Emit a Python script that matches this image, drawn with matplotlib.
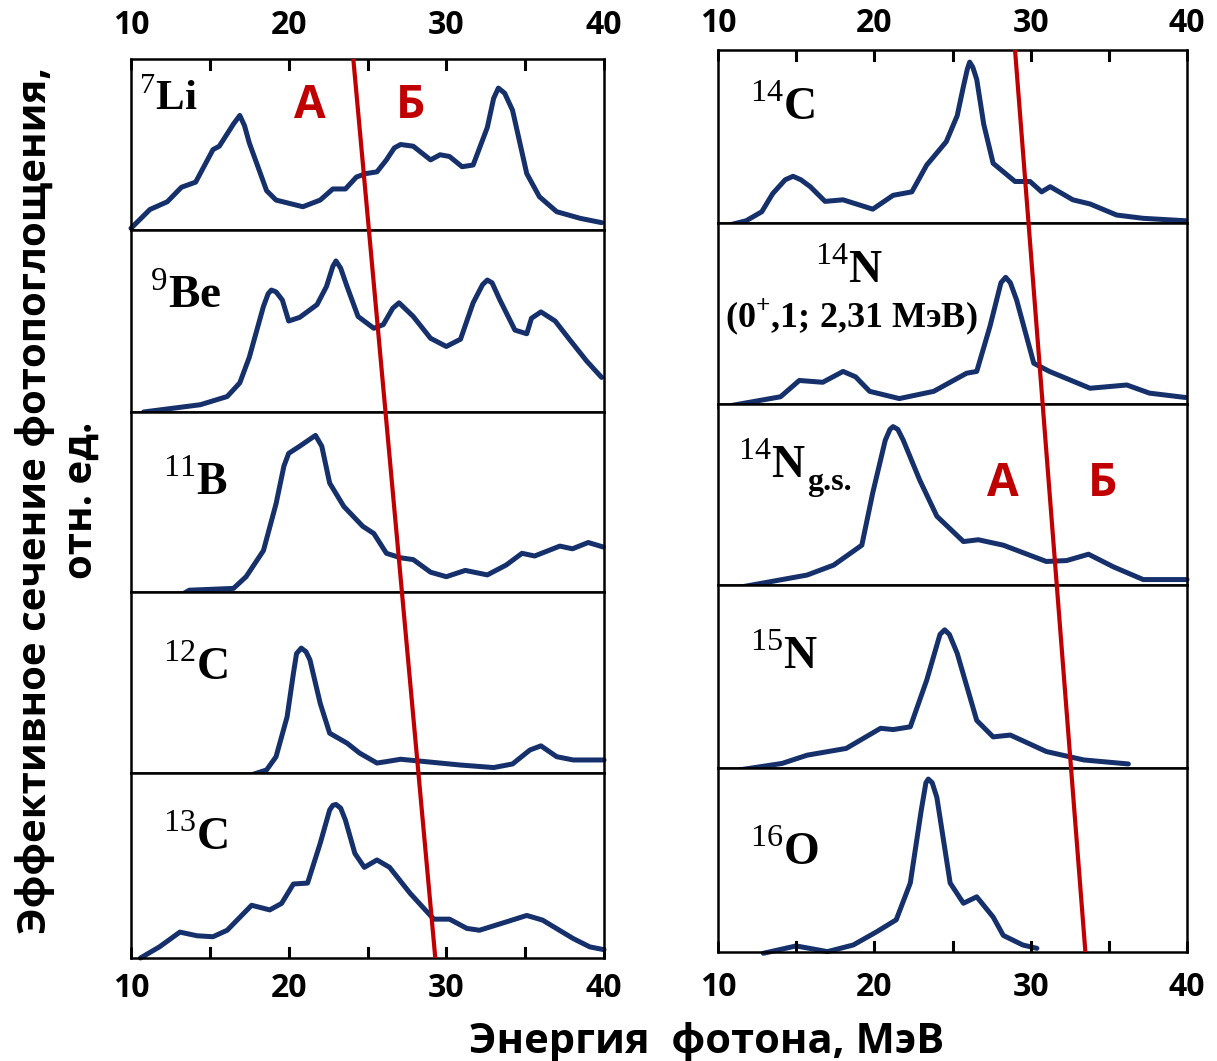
"""
  Спектры фотопоглощения лёгких ядер (две колонки панелей).
"""
import matplotlib.pyplot as plt

plt.rcParams['mathtext.fontset'] = 'custom'
plt.rcParams['mathtext.rm'] = 'Liberation Serif'
plt.rcParams['mathtext.bf'] = 'Liberation Serif:bold'

W, H = 1217, 1061
CURVE = '#15306b'
RED = '#c00000'
SANS = 'Open Sans'

# ---- данные (энергия, МэВ; сечение, отн. ед.) ----
e_li7 = [10.0, 11.2, 12.3, 13.2, 14.1, 15.2, 15.6, 16.5, 16.9, 17.2, 17.5, 18.6, 19.2, 20.9, 22.0, 22.8,
         23.6, 24.3, 24.9, 25.6, 26.2, 26.7, 27.1, 27.9, 29.0, 29.6, 30.2, 31.0, 31.7, 32.6, 33.0, 33.3,
         33.7, 34.2, 35.1, 35.9, 37.0, 38.5, 39.85]
s_li7 = [0.01, 0.12, 0.165, 0.25, 0.28, 0.47, 0.49, 0.62, 0.67, 0.61, 0.51, 0.23, 0.175, 0.136, 0.175, 0.24,
         0.24, 0.31, 0.33, 0.34, 0.41, 0.48, 0.50, 0.49, 0.41, 0.44, 0.43, 0.37, 0.38, 0.60, 0.77, 0.83,
         0.80, 0.70, 0.33, 0.195, 0.107, 0.068, 0.043]

e_be9 = [10.8, 14.4, 16.1, 16.9, 17.5, 18.4, 18.7, 18.9, 19.2, 19.6, 20.0, 20.7, 21.8, 22.4, 22.8, 23.0,
         23.3, 23.7, 24.4, 25.4, 26.0, 26.6, 27.0, 27.9, 29.0, 30.0, 30.9, 31.7, 32.3, 32.6, 32.9, 33.4,
         34.35, 35.1, 35.4, 36.0, 36.9, 37.8, 38.9, 39.85]
s_be9 = [0.0, 0.04, 0.085, 0.16, 0.30, 0.58, 0.65, 0.67, 0.66, 0.615, 0.50, 0.52, 0.59, 0.69, 0.80, 0.83,
         0.79, 0.69, 0.525, 0.46, 0.48, 0.57, 0.60, 0.525, 0.405, 0.36, 0.40, 0.60, 0.70, 0.725, 0.71, 0.615,
         0.45, 0.43, 0.515, 0.55, 0.50, 0.40, 0.28, 0.19]

e_b11 = [13.1, 13.7, 16.5, 17.3, 18.4, 19.2, 19.7, 20.0, 20.7, 21.2, 21.7, 22.1, 22.6, 23.5, 24.7, 25.4,
         26.2, 27.1, 27.9, 29.0, 30.0, 31.2, 32.6, 33.8, 34.8, 35.6, 37.2, 38.0, 39.0, 39.95]
s_b11 = [-0.02, 0.01, 0.02, 0.085, 0.23, 0.49, 0.70, 0.77, 0.81, 0.84, 0.87, 0.81, 0.605, 0.475, 0.365, 0.325,
         0.215, 0.19, 0.18, 0.11, 0.085, 0.12, 0.095, 0.15, 0.215, 0.20, 0.255, 0.24, 0.275, 0.25]

e_c12 = [17.65, 18.6, 19.2, 19.9, 20.3, 20.5, 20.8, 21.1, 21.35, 22.0, 22.6, 23.7, 24.5, 25.6, 26.2, 27.1,
         28.3, 30.9, 33.0, 34.2, 35.3, 36.0, 37.0, 38.05, 40.0]
s_c12 = [-0.01, 0.017, 0.09, 0.31, 0.55, 0.66, 0.69, 0.67, 0.625, 0.385, 0.22, 0.165, 0.11, 0.055, 0.063, 0.076,
         0.066, 0.044, 0.03, 0.05, 0.127, 0.15, 0.09, 0.072, 0.072]

e_c13 = [10.6, 11.8, 13.1, 14.2, 15.2, 16.1, 17.65, 18.8, 19.55, 20.3, 21.2, 22.0, 22.6, 22.8, 23.0, 23.3,
         23.6, 24.2, 24.8, 25.6, 26.4, 27.7, 29.2, 30.2, 31.3, 32.1, 33.8, 35.1, 36.1, 38.05, 39.1, 40.0]
s_c13 = [0.0, 0.06, 0.14, 0.12, 0.115, 0.15, 0.285, 0.26, 0.295, 0.40, 0.405, 0.62, 0.80, 0.825, 0.83, 0.81,
         0.745, 0.565, 0.49, 0.53, 0.49, 0.35, 0.21, 0.21, 0.16, 0.15, 0.195, 0.23, 0.205, 0.105, 0.06, 0.045]

e_c14 = [10.35, 11.8, 12.8, 13.5, 14.3, 14.8, 15.3, 15.9, 16.85, 18.0, 19.9, 21.2, 22.4, 23.35, 24.6, 25.3,
         25.7, 25.95, 26.1, 26.3, 26.55, 27.0, 27.6, 29.0, 29.96, 30.7, 31.25, 32.7, 33.8, 35.5, 37.2, 39.9]
s_c14 = [-0.02, 0.013, 0.065, 0.17, 0.25, 0.27, 0.25, 0.21, 0.125, 0.134, 0.08, 0.16, 0.18, 0.335, 0.47, 0.62,
         0.79, 0.89, 0.93, 0.90, 0.83, 0.57, 0.345, 0.24, 0.24, 0.18, 0.21, 0.134, 0.11, 0.046, 0.027, 0.013]

e_n14 = [10.1, 14.0, 15.2, 16.7, 18.0, 18.8, 19.7, 21.6, 23.8, 25.9, 26.55, 27.4, 28.1, 28.4, 28.7, 29.1,
         30.2, 31.2, 33.8, 36.15, 37.6, 39.9]
s_n14 = [-0.02, 0.04, 0.13, 0.12, 0.18, 0.15, 0.07, 0.03, 0.07, 0.17, 0.18, 0.43, 0.67, 0.70, 0.67, 0.575,
         0.225, 0.18, 0.087, 0.105, 0.06, 0.036]

e_n14gs = [10.9, 15.7, 17.4, 19.2, 19.9, 20.7, 21.0, 21.2, 21.5, 21.85, 22.9, 24.0, 25.7, 26.65, 28.25, 31.0,
           32.3, 33.7, 35.3, 37.2, 40.0]
s_n14gs = [-0.02, 0.055, 0.11, 0.22, 0.51, 0.80, 0.86, 0.875, 0.86, 0.80, 0.58, 0.38, 0.24, 0.25, 0.22, 0.13,
           0.135, 0.17, 0.10, 0.03, 0.03]

e_n15 = [11.4, 14.1, 15.7, 18.2, 20.4, 21.2, 22.3, 23.35, 24.2, 24.5, 24.8, 25.3, 26.55, 27.6, 28.7, 31.0,
         33.4, 36.25]
s_n15 = [-0.01, 0.025, 0.07, 0.107, 0.217, 0.21, 0.225, 0.48, 0.73, 0.755, 0.73, 0.627, 0.26, 0.17, 0.18, 0.09,
         0.044, 0.022]

e_o16 = [12.9, 15.0, 17.0, 18.65, 20.15, 21.4, 22.3, 23.0, 23.3, 23.45, 23.7, 24.0, 24.85, 25.7, 26.55, 27.6,
         28.25, 29.5, 30.4]
s_o16 = [-0.007, 0.033, 0.002, 0.038, 0.11, 0.175, 0.375, 0.77, 0.92, 0.94, 0.92, 0.84, 0.375, 0.265, 0.30, 0.19,
         0.09, 0.038, 0.02]

# граница областей А / Б (энергия вверху и внизу колонки)
border_left = [24.1, 29.3]
border_right = [29.0, 33.5]

xticks_major = [10, 20, 30, 40]
xticks_minor = [15, 25, 35]
tick_marks = [15, 20, 25, 30, 35]


def rect_px(x0, x1, y0, y1):
  return [x0 / W, 1 - y1 / H, (x1 - x0) / W, (y1 - y0) / H]


def panel(fig, rect, e, s, label, lx, ly, size, pos=None, pad=10):
  ax = fig.add_axes(rect)
  ax.plot(e, s, color=CURVE, lw=3.6, solid_joinstyle='round', solid_capstyle='round', clip_on=False)
  ax.set_xlim(10, 40)
  ax.set_ylim(0, 1)
  ax.set_yticks([])
  ax.set_xticks(xticks_major)
  ax.set_xticks(xticks_minor, minor=True)
  for sp in ax.spines.values():
    sp.set_linewidth(1.8)
  ax.text(lx, ly, label, fontsize=size, ha='left', va='center')
  for which in ('major', 'minor'):
    ax.xaxis.set_tick_params(which=which, direction='in', length=8, width=2.0, color='black',
                             bottom=(pos == 'bottom'), top=(pos == 'top'),
                             labelbottom=(pos == 'bottom'), labeltop=(pos == 'top'), pad=pad)
  # короткие засечки внутрь рамки
  frac = 10 / (rect[3] * H)
  if pos == 'top':
    for x in tick_marks:
      ax.axvline(x, ymin=1 - frac, ymax=1, color='black', lw=2.2)
  if pos == 'bottom':
    for x in tick_marks:
      ax.axvline(x, ymin=0, ymax=frac, color='black', lw=2.2)
  if pos is not None:
    for t in ax.get_xticklabels():
      t.set_fontfamily(SANS)
      t.set_fontweight('bold')
      t.set_fontsize(23)
  return ax


def red_line(fig, rect, xs):
  ov = fig.add_axes(rect)
  ov.set_xlim(10, 40)
  ov.set_ylim(0, 1)
  ov.axis('off')
  ov.plot(xs, [1, 0], color=RED, lw=3.0)
  return ov


fig = plt.figure(figsize=(W / 100, H / 100), dpi=100)

# левая колонка
lx0, lx1 = 131, 604
ledges = [59, 230, 412, 592, 773, 958]
a_li = panel(fig, rect_px(lx0, lx1, ledges[0], ledges[1]), e_li7, s_li7, r'$^{\mathrm{7}}\mathbf{Li}$', 10.5, 0.77, 31, 'top', 12)
panel(fig, rect_px(lx0, lx1, ledges[1], ledges[2]), e_be9, s_be9, r'$^{\mathrm{9}}\mathbf{Be}$', 11.2, 0.64, 34)
panel(fig, rect_px(lx0, lx1, ledges[2], ledges[3]), e_b11, s_b11, r'$^{\mathrm{11}}\mathbf{B}$', 12.0, 0.61, 33)
panel(fig, rect_px(lx0, lx1, ledges[3], ledges[4]), e_c12, s_c12, r'$^{\mathrm{12}}\mathbf{C}$', 12.0, 0.585, 33)
panel(fig, rect_px(lx0, lx1, ledges[4], ledges[5]), e_c13, s_c13, r'$^{\mathrm{13}}\mathbf{C}$', 12.0, 0.65, 33, 'bottom', 10)
red_line(fig, rect_px(lx0, lx1, ledges[0], ledges[-1]), border_left)

# правая колонка
rx0, rx1 = 718, 1187
redges = [50, 223, 404, 585, 768, 952]
panel(fig, rect_px(rx0, rx1, redges[0], redges[1]), e_c14, s_c14, r'$^{\mathrm{14}}\mathbf{C}$', 12.05, 0.67, 33, 'top', 7)
a2 = panel(fig, rect_px(rx0, rx1, redges[1], redges[2]), e_n14, s_n14, r'$^{\mathrm{14}}\mathbf{N}$', 16.2, 0.735, 33)
a2.text(18.5, 0.48, r'(0$^{\mathbf{+}}$,1; 2,31 МэВ)', fontsize=26, family='Liberation Serif',
        fontweight='bold', ha='center', va='center')
a3 = panel(fig, rect_px(rx0, rx1, redges[2], redges[3]), e_n14gs, s_n14gs,
           r'$^{\mathrm{14}}\mathbf{N}$', 11.3, 0.66, 33)
a3.text(15.7, 0.525, 'g.s.', fontsize=23, family='Liberation Serif', fontweight='bold',
        ha='left', va='baseline')
panel(fig, rect_px(rx0, rx1, redges[3], redges[4]), e_n15, s_n15, r'$^{\mathrm{15}}\mathbf{N}$', 12.05, 0.61, 33)
panel(fig, rect_px(rx0, rx1, redges[4], redges[5]), e_o16, s_o16, r'$^{\mathrm{16}}\mathbf{O}$', 12.05, 0.54, 33, 'bottom', 14)
red_line(fig, rect_px(rx0, rx1, redges[0], redges[-1]), border_right)

# подписи областей А и Б
lab_kw = dict(color=RED, fontsize=33, fontweight='bold', family=SANS, ha='center', va='center')
a_li.text(21.35, 0.73, 'А', **lab_kw)
a_li.text(27.7, 0.73, 'Б', **lab_kw)
a3.text(28.2, 0.56, 'А', **lab_kw)
a3.text(34.6, 0.56, 'Б', **lab_kw)

fig.text(707 / W, 1 - 1053 / H, 'Энергия  фотона, МэВ', ha='center', va='baseline',
         fontsize=30, fontweight='bold', family=SANS)
fig.text(58 / W, 1 - 500 / H, 'Эффективное сечение фотопоглощения,\nотн. ед.', rotation=90,
         ha='center', va='center', multialignment='center', fontsize=29, fontweight='bold',
         family=SANS, linespacing=1.2)

fig.savefig('out.png', dpi=100)
